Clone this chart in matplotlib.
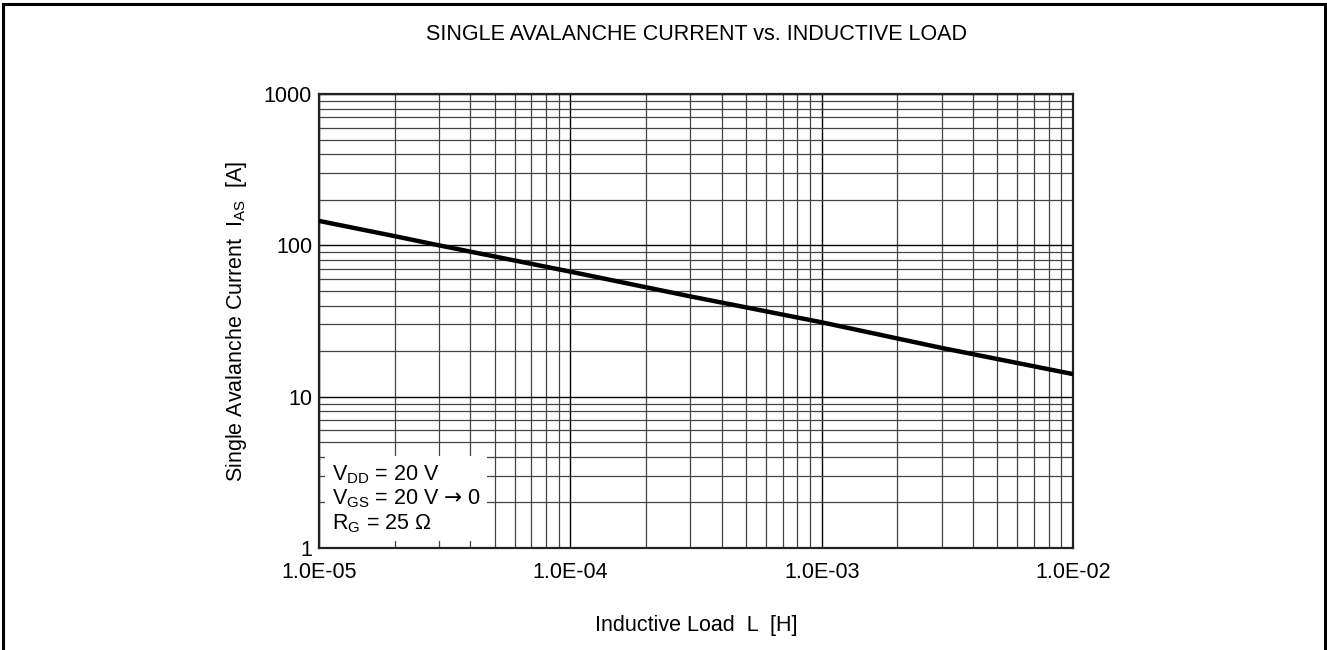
import numpy as np
import matplotlib
matplotlib.use("Agg")
import matplotlib.pyplot as plt
from matplotlib.ticker import LogLocator, NullFormatter, FixedLocator, FixedFormatter

plt.rcParams['font.family'] = ['Liberation Sans', 'DejaVu Sans']
plt.rcParams['mathtext.fontset'] = 'custom'
plt.rcParams['mathtext.rm'] = 'Liberation Sans'
plt.rcParams['mathtext.it'] = 'Liberation Sans'
plt.rcParams['mathtext.sf'] = 'DejaVu Sans'

# values
inductance = [1e-5, 2e-5, 3e-5, 1e-4, 3e-4, 1e-3, 3e-3, 1e-2]
current = [145, 115, 100, 67, 46, 31, 21, 14.1]

x_ticks = [1e-5, 1e-4, 1e-3, 1e-2]
x_labels = ['1.0E-05', '1.0E-04', '1.0E-03', '1.0E-02']
y_ticks = [1, 10, 100, 1000]
y_labels = ['1', '10', '100', '1000']

FS = 15.5
W, H = 1327, 650
fig = plt.figure(figsize=(W / 100, H / 100), dpi=100)

# frame round the figure
fig.patches.append(plt.Rectangle((3 / W, -0.02), (W - 5) / W, 1.0 - 4 / H + 0.02,
                                 transform=fig.transFigure, fill=False,
                                 edgecolor='black', linewidth=2.2))

ax = fig.add_axes([319 / W, (H - 548) / H, 754 / W, 454 / H])
ax.set_xscale('log')
ax.set_yscale('log')
ax.set_xlim(1e-5, 1e-2)
ax.set_ylim(1, 1000)

ax.plot(inductance, current, color='black', linewidth=3.2, solid_capstyle='butt', zorder=4)

ax.xaxis.set_major_locator(FixedLocator(x_ticks))
ax.xaxis.set_major_formatter(FixedFormatter(x_labels))
ax.yaxis.set_major_locator(FixedLocator(y_ticks))
ax.yaxis.set_major_formatter(FixedFormatter(y_labels))
ax.xaxis.set_minor_locator(LogLocator(base=10, subs=np.arange(2, 10)))
ax.yaxis.set_minor_locator(LogLocator(base=10, subs=np.arange(2, 10)))
ax.xaxis.set_minor_formatter(NullFormatter())
ax.yaxis.set_minor_formatter(NullFormatter())

ax.grid(which='major', color='black', linewidth=1.0)
ax.grid(which='minor', color='#444444', linewidth=0.9)
ax.set_axisbelow(True)
ax.tick_params(which='both', length=0, labelsize=FS)
ax.tick_params(axis='x', pad=10)
ax.tick_params(axis='y', pad=5)

for s in ax.spines.values():
    s.set_color('#222222')
    s.set_linewidth(1.6)

ax.set_title('SINGLE AVALANCHE CURRENT vs. INDUCTIVE LOAD', fontsize=FS, pad=39)
ax.set_xlabel('Inductive Load  L  [H]', fontsize=FS, labelpad=23)
ax.set_ylabel(r'Single Avalanche Current  I$_{\mathrm{AS}}$  [A]', fontsize=FS, labelpad=11)

ax.text(0.017, 0.029, 'V$_{\\mathrm{DD}}$ = 20 V\nV$_{\\mathrm{GS}}$ = 20 V $\\mathsf{\u2192}$ 0\nR$_{\\mathrm{G}}$ = 25 \u03a9',
        transform=ax.transAxes, fontsize=FS, linespacing=1.12, va='bottom', ha='left', zorder=3,
        bbox=dict(boxstyle='square,pad=0.3', facecolor='white', edgecolor='none'))

fig.savefig('out.png', dpi=100)
